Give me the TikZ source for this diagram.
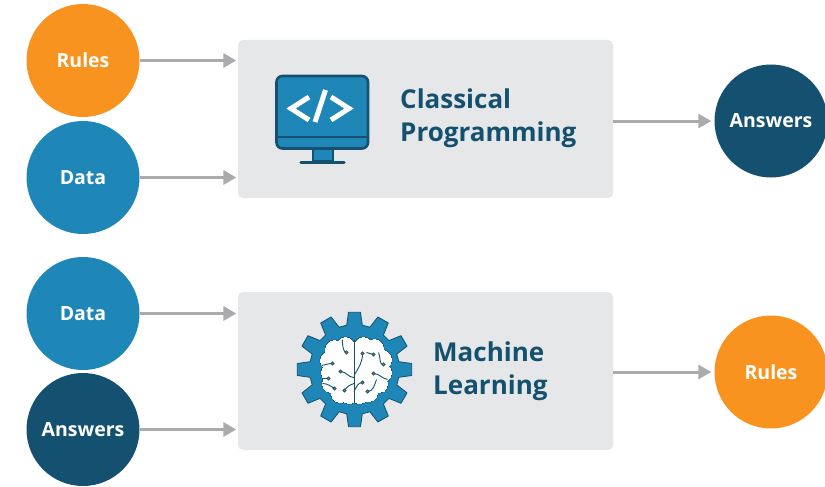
\documentclass[tikz,border=0pt]{standalone}
\usepackage{fontspec}
\setmainfont{Open Sans}
\usetikzlibrary{arrows.meta}
\definecolor{orangeC}{HTML}{F7931E}
\definecolor{blueC}{HTML}{1F87B8}
\definecolor{darkC}{HTML}{14506F}
\definecolor{boxC}{HTML}{E6E7E8}
\definecolor{arrowC}{HTML}{ABABAD}
\tikzset{%
  ball/.style={circle, minimum size=113pt, inner sep=0pt, text=white, font=\fontsize{19.5}{21}\selectfont\bfseries},
  panel/.style={rectangle, rounded corners=5pt, fill=boxC, minimum width=375pt, minimum height=158pt, inner sep=0pt},
  title/.style={anchor=west, align=left, inner sep=0pt, text=darkC, font=\fontsize{26}{33}\selectfont\bfseries},
  flow/.style={draw=arrowC, line width=3pt, -{Triangle[length=13pt,width=14pt]}},
  wire/.style={draw=darkC, line width=0.9pt},
}
\begin{document}
\begin{tikzpicture}[x=1pt,y=-1pt]
  \useasboundingbox (0,0) rectangle (825,487);
  \clip (0,0) rectangle (825,487);
  % the two panels
  \node[panel] (classical) at (425.5,119) {};
  \node[panel] (learning) at (425.5,371) {};
  % inputs and outputs
  \node[ball,fill=orangeC] (rulesIn) at (83,60.5) {Rules};
  \node[ball,fill=blueC] (dataA) at (83,177.5) {Data};
  \node[ball,fill=blueC] (dataB) at (83,313.5) {Data};
  \node[ball,fill=darkC] (answersIn) at (83,429.5) {Answers};
  \node[ball,fill=darkC] (answersOut) at (771,121) {Answers};
  \node[ball,fill=orangeC] (rulesOut) at (771,372) {Rules};
  % arrows
  \foreach \from/\to in {rulesIn/classical, dataA/classical, dataB/learning, answersIn/learning}{
      \draw[flow,shorten >=1.5pt] (\from.east) -- (\to.west |- \from.east);
  }
  \draw[flow,shorten >=3pt] (classical.east |- answersOut) -- (answersOut.west);
  \draw[flow,shorten >=3pt] (learning.east |- rulesOut) -- (rulesOut.west);
  % panel titles
  \node[title] (classicalText) at (400,118.5) {Classical\\Programming};
  \node[title] (learningText) at (433,371.5) {Machine\\Learning};
  % monitor icon
  \fill[blueC,draw=darkC,line width=2pt] (312.5,148) rectangle (332.5,161);
  \draw[darkC,line width=3.5pt,line cap=round] (301,162.5) -- (344,162.5);
  \fill[blueC,draw=darkC,line width=2.6pt,rounded corners=6pt] (276.5,76) rectangle (368,148.5);
  \draw[darkC,line width=2.6pt] (277,137) -- (368,137);
  \draw[white,line width=5pt] (309,97) -- (291,108.5) -- (309,120);
  \draw[white,line width=5pt] (331,97) -- (349,108.5) -- (331,120);
  \draw[white,line width=5pt] (325.5,90) -- (315,122);
  % gear icon
  \begin{scope}[shift={(354.5,369.5)}]
    \filldraw[fill=blueC,draw=darkC,line width=0.8pt,line join=round]
      (-10:45) \foreach \a in {0,30,...,330}{
          -- (\a-10:45) -- (\a-6:57.5) -- (\a+6:57.5) -- (\a+10:45)
      } -- cycle;
    % brain lobes, outline first and then the white on top
    \foreach \s/\w in {darkC/1.8pt, white/0pt}{
        \foreach \x/\y in {-9/-23,-20/-20,-25/-9,-24/3,-23/14,-14/24,-5/25,9/-23,20/-21,28/-10,28/3,24/14,14/23,5/25}{
            \filldraw[fill=white,draw=\s,line width=\w] (\x,\y) circle (9);
        }
    }
    \fill[white] (-24,-20) rectangle (30,22);
    \draw[wire] (-0.5,-30) -- (-0.5,33);
    % wires
    \draw[wire] (-8,-17) to[out=180,in=90] (-12,-29);
    \draw[wire] (-22,-6) to[out=180,in=10] (-33,-4);
    \draw[wire] (-14,2) to[out=0,in=180] (-0.5,8);
    \draw[wire] (-26,9) -- (-33,9);
    \draw[wire] (-20,19) to[out=150,in=0] (-32,14);
    \draw[wire] (-10,21) to[out=60,in=200] (-0.5,14);
    \draw[wire] (8,-16) to[out=270,in=60] (-0.5,6);
    \draw[wire] (19,-15) -- (12,-17);
    \draw[wire] (29,-5) to[out=180,in=300] (24,-17);
    \draw[wire] (19,4) to[out=0,in=170] (33,10);
    \draw[wire] (8,13) to[out=180,in=60] (-0.5,22);
    \draw[wire] (13,22) to[out=0,in=250] (22,10);
    \foreach \x/\y in {-8/-17,-22/-6,-14/2,-26/9,-20/19,-10/21,8/-16,19/-15,29/-5,19/4,8/13,13/22}{
        \filldraw[fill=orangeC!70!darkC,draw=darkC,line width=0.7pt] (\x,\y) circle (1.7);
    }
  \end{scope}
\end{tikzpicture}
\end{document}
